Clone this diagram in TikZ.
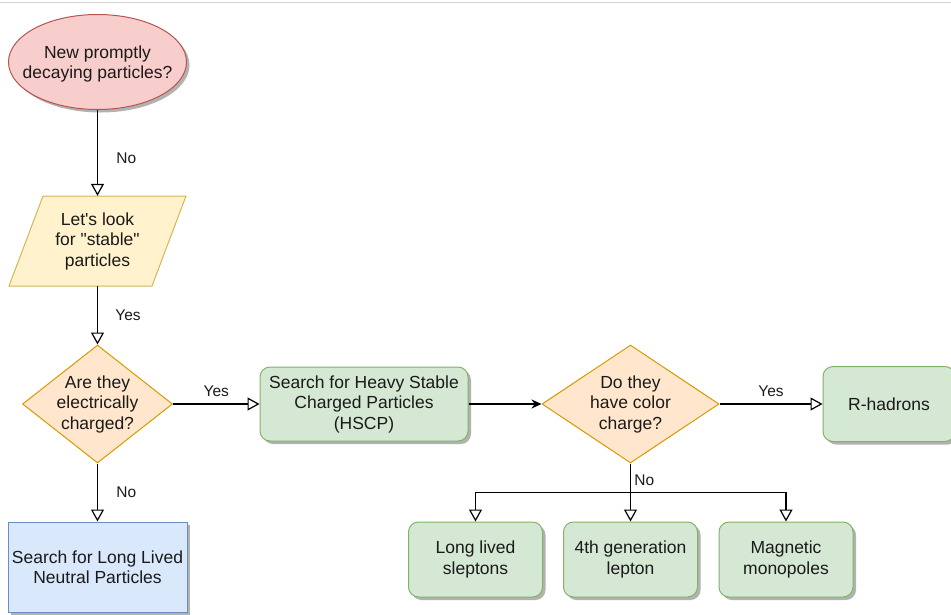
\documentclass[tikz,border=0pt]{standalone}
\usepackage{fontspec}
\setmainfont{Liberation Sans}
\usetikzlibrary{shapes.geometric,arrows.meta,shadows}

\definecolor{pinkfill}{HTML}{F8CECC}
\definecolor{pinkline}{HTML}{B85450}
\definecolor{yelfill}{HTML}{FFF2CC}
\definecolor{yelline}{HTML}{D6B656}
\definecolor{orgfill}{HTML}{FFE6CC}
\definecolor{orgline}{HTML}{D79B00}
\definecolor{bluefill}{HTML}{DAE8FC}
\definecolor{blueline}{HTML}{6C8EBF}
\definecolor{grnfill}{HTML}{D5E8D4}
\definecolor{grnline}{HTML}{82B366}
\definecolor{txtgray}{HTML}{1A1A1A}

\begin{document}
\begin{tikzpicture}[x=1pt,y=-1pt,
    every node/.style={text=txtgray},
    txt/.style={font=\fontsize{17.5}{20.5}\selectfont,align=center},
    shadowed/.style={drop shadow={shadow xshift=3pt,shadow yshift=-3pt,opacity=.3,fill=black}},
    greenbox/.style={txt,draw=grnline,fill=grnfill,line width=1pt,rounded corners=10pt,
      minimum width=134pt,minimum height=75pt,shadowed},
    decision/.style={diamond,draw=orgline,fill=orgfill,line width=1pt,inner sep=0pt},
    link/.style={line width=1.2pt,-{Triangle[open,length=12pt,width=13pt]}},
    yesno/.style={font=\fontsize{15.5}{18}\selectfont}]
  \useasboundingbox (0,0) rectangle (951,614);
  \draw[gray!35,line width=1pt] (0,2.5) -- (951,2.5);

  \node[ellipse,draw=pinkline,fill=pinkfill,line width=1pt,inner sep=0pt,shadowed,
    minimum width=178pt,minimum height=95pt,
    label={[txt,yshift=-2pt]center:New promptly\\decaying particles?}] (prompt) at (97.5,62) {};
  % parallelogram drawn by hand round its text node
  \coordinate (lookc) at (97.5,241);
  \draw[draw=yelline,fill=yelfill,line width=1pt]
    ([shift={(-54.5,-45)}]lookc) -- ([shift={(88.5,-45)}]lookc)
    -- ([shift={(54.5,45)}]lookc) -- ([shift={(-88.5,45)}]lookc) -- cycle;
  \node[txt,minimum width=143pt,minimum height=90pt,inner sep=0pt] (look) at (lookc)
    {Let\textquotesingle s look\\for \textquotedbl stable\textquotedbl\\particles};
  \node[decision,minimum width=150pt,minimum height=118pt,
    label={[txt]center:Are they\\electrically\\charged?}] (charged) at (97.5,404) {};
  \node[txt,draw=blueline,fill=bluefill,line width=1pt,shadowed,
    minimum width=179pt,minimum height=90pt] (neutral) at (97.5,567)
    {Search for Long Lived\\Neutral Particles};
  \node[greenbox,minimum width=208pt,minimum height=74pt] (hscp) at (364,404)
    {Search for Heavy Stable\\Charged Particles\\(HSCP)};
  \node[decision,minimum width=177pt,minimum height=118pt,
    label={[txt]center:Do they\\have color\\charge?}] (colour) at (630.5,404) {};
  \node[greenbox,minimum width=132pt] (rhad) at (889,404) {R-hadrons};

  \draw[link] (prompt.south) -- node[yesno,right=15pt,yshift=-5pt]{No} (look.north);
  \draw[link] (look.south) -- node[yesno,right=14pt]{Yes} (charged.north);
  \draw[link] (charged.south) -- node[yesno,right=15pt]{No} (neutral.north);
  \draw[link] (charged.east) -- node[yesno,above=3pt]{Yes} (hscp.west);
  \draw[line width=1.2pt,-{Stealth[length=10pt,width=9pt]}] (hscp.east) -- (colour.west);
  \draw[link] (colour.east) -- node[yesno,above=3pt]{Yes} (rhad.west);
  \draw[line width=1.2pt] (colour.south) -- node[yesno,right=0pt,yshift=-2pt]{No} ++(0,29);

  \foreach \nm/\xx/\lbl in {slep/475.5/{Long lived\\sleptons},
      gen/630.5/{4th generation\\lepton},mono/786/{Magnetic\\monopoles}} {
    \node[greenbox] (\nm) at (\xx,559.5) {\lbl};
    \draw[link] (colour.south) -- ++(0,29) -| (\nm.north);
  }
\end{tikzpicture}
\end{document}
